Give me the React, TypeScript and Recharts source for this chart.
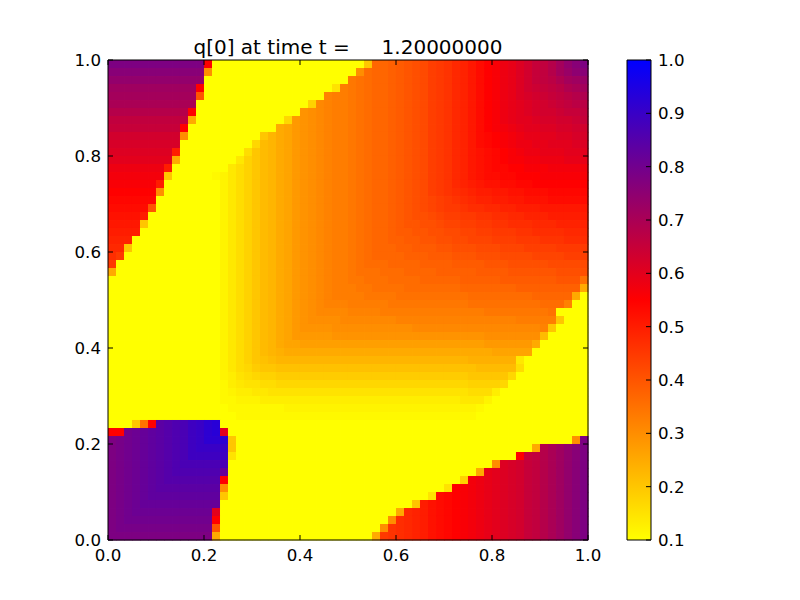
import * as React from "react";
import { Bar, BarChart, Scatter, ScatterChart, XAxis, YAxis } from "recharts";

const axisTicks = [0, 0.2, 0.4, 0.6, 0.8, 1];
const barTicks = [0.1, 0.2, 0.3, 0.4, 0.5, 0.6, 0.7, 0.8, 0.9, 1];
const titleText = "q[0] at time t =     1.20000000";

const xCenters = [
  0.0083, 0.025, 0.0417, 0.0583, 0.075, 0.0917, 0.1083, 0.125, 0.1417, 0.1583,
  0.175, 0.1917, 0.2083, 0.225, 0.2417, 0.2583, 0.275, 0.2917, 0.3083, 0.325,
  0.3417, 0.3583, 0.375, 0.3917, 0.4083, 0.425, 0.4417, 0.4583, 0.475, 0.4917,
  0.5083, 0.525, 0.5417, 0.5583, 0.575, 0.5917, 0.6083, 0.625, 0.6417, 0.6583,
  0.675, 0.6917, 0.7083, 0.725, 0.7417, 0.7583, 0.775, 0.7917, 0.8083, 0.825,
  0.8417, 0.8583, 0.875, 0.8917, 0.9083, 0.925, 0.9417, 0.9583, 0.975, 0.9917,
];
const yCenters = [...xCenters].reverse();

// q in hundredths, top row first
const qRows = [
  [78,78,78,78,78,78,78,78,78,78,78,78,55,10,10,10,10,10,10,10,10,10,10,10,10,10,10,10,10,10,10,10,20,37,37,38,39,40,41,42,44,45,46,48,49,51,53,55,56,58,59,61,63,65,66,68,71,74,76,78],
  [76,76,76,76,76,76,76,76,76,76,76,76,30,10,10,10,10,10,10,10,10,10,10,10,10,10,10,10,10,10,10,30,36,37,37,38,39,40,41,42,44,45,46,48,49,51,53,55,56,58,59,61,63,65,66,68,71,73,75,76],
  [74,74,74,74,74,74,74,74,74,74,74,74,10,10,10,10,10,10,10,10,10,10,10,10,10,10,10,10,10,10,34,35,36,37,37,38,39,40,41,42,44,45,46,48,49,51,53,55,56,58,59,61,63,65,66,67,69,71,72,73],
  [72,72,72,72,72,72,72,72,72,72,72,55,10,10,10,10,10,10,10,10,10,10,10,10,10,10,10,10,15,33,34,35,36,37,37,38,39,40,41,42,44,45,46,48,49,51,53,55,56,58,59,61,63,64,65,66,67,69,70,71],
  [71,71,71,71,71,71,71,71,71,71,71,40,10,10,10,10,10,10,10,10,10,10,10,10,10,10,10,32,33,33,34,35,36,37,37,38,39,40,41,42,44,45,46,48,49,51,53,55,56,58,59,61,62,63,64,65,66,67,68,69],
  [70,70,70,70,70,70,70,70,70,70,70,10,10,10,10,10,10,10,10,10,10,10,10,10,10,18,31,32,33,33,34,35,36,37,37,38,39,40,41,42,44,45,46,48,49,51,53,55,56,58,59,60,61,62,63,64,65,66,67,67],
  [68,68,68,68,68,68,68,68,68,68,55,10,10,10,10,10,10,10,10,10,10,10,10,10,29,30,31,32,33,33,34,35,36,37,37,38,39,40,41,42,44,45,46,48,49,51,53,55,56,58,59,60,61,62,63,63,64,65,65,66],
  [66,66,66,66,66,66,66,66,66,66,25,10,10,10,10,10,10,10,10,10,10,10,17,28,29,30,31,32,33,33,34,35,36,37,37,38,39,40,41,42,44,45,46,48,49,51,53,55,56,58,59,60,60,61,62,62,63,63,64,65],
  [65,65,65,65,65,65,65,65,65,55,10,10,10,10,10,10,10,10,10,10,10,25,26,28,29,30,31,32,33,33,34,35,36,37,37,38,39,40,41,42,44,45,46,48,49,51,53,55,56,57,58,59,60,60,61,61,62,62,63,63],
  [63,63,63,63,63,63,63,63,63,30,10,10,10,10,10,10,10,10,10,20,23,25,26,28,29,30,31,32,33,33,34,35,36,37,37,38,39,40,41,42,44,45,46,48,49,51,53,54,55,56,57,58,59,59,60,60,61,61,62,62],
  [62,62,62,62,62,62,62,62,62,10,10,10,10,10,10,10,10,10,17,22,23,25,26,28,29,30,31,32,33,33,34,35,36,37,37,38,39,40,41,42,44,45,46,48,49,51,53,54,55,56,57,58,58,59,59,60,60,60,61,61],
  [61,61,61,61,61,61,61,61,50,10,10,10,10,10,10,10,10,16,20,22,23,25,26,28,29,30,31,32,33,33,34,35,36,37,37,38,39,40,41,42,44,45,46,48,49,51,52,53,54,55,56,57,58,58,59,59,59,60,60,60],
  [60,60,60,60,60,60,60,60,25,10,10,10,10,10,10,10,14,18,20,22,23,25,26,28,29,30,31,32,33,33,34,35,36,37,37,38,39,40,41,42,44,45,46,48,49,51,52,53,54,55,56,56,57,57,58,58,58,59,59,59],
  [58,58,58,58,58,58,58,50,10,10,10,10,10,10,10,14,16,18,20,22,23,25,26,28,29,30,31,32,33,33,34,35,36,37,37,38,39,40,41,42,44,45,46,48,49,51,52,53,54,54,55,55,56,56,56,57,57,57,57,57],
  [57,57,57,57,57,57,57,20,10,10,10,10,10,11,12,14,16,18,20,22,23,25,26,28,29,30,31,32,33,33,34,35,36,37,37,38,39,40,41,42,44,45,46,48,49,51,52,53,53,54,54,55,55,55,56,56,56,56,56,56],
  [56,56,56,56,56,56,50,10,10,10,10,10,10,10,12,14,16,18,20,22,23,25,26,28,29,30,31,32,33,33,34,35,36,37,37,38,39,40,41,42,44,45,46,48,49,50,51,52,52,53,53,54,54,55,55,55,55,55,55,55],
  [55,55,55,55,55,55,30,10,10,10,10,10,10,10,12,14,16,18,20,22,23,25,26,28,29,30,31,32,33,33,34,35,36,37,37,38,39,40,41,42,44,45,46,47,48,49,50,50,51,51,52,52,53,53,53,54,54,54,54,54],
  [54,54,54,54,54,54,10,10,10,10,10,10,10,10,12,14,16,18,20,22,23,25,26,28,29,30,31,32,33,33,34,35,36,37,37,38,39,40,41,42,43,44,45,46,47,48,49,49,50,50,51,51,52,52,52,53,53,53,53,53],
  [53,53,53,53,53,40,10,10,10,10,10,10,10,10,12,14,16,18,20,22,23,25,26,28,29,30,31,32,33,33,34,35,36,37,37,38,39,40,41,42,43,44,45,45,46,47,47,48,48,49,49,50,50,50,51,51,51,51,51,51],
  [52,52,52,52,50,10,10,10,10,10,10,10,10,10,12,14,16,18,20,22,23,25,26,28,29,30,31,32,33,33,34,35,36,37,37,38,39,40,41,41,42,43,44,44,45,45,46,46,47,47,48,48,49,49,49,50,50,50,50,50],
  [51,51,51,51,20,10,10,10,10,10,10,10,10,10,12,14,16,18,20,22,23,25,26,28,29,30,31,32,33,33,34,35,36,37,37,38,39,40,40,41,41,42,43,43,44,44,45,45,46,46,47,47,47,48,48,48,49,49,49,49],
  [50,50,50,50,10,10,10,10,10,10,10,10,10,10,12,14,16,18,20,22,23,25,26,28,29,30,31,32,33,33,34,35,36,37,37,38,39,39,40,40,41,41,42,42,43,43,44,44,45,45,45,46,46,47,47,47,47,48,48,48],
  [49,49,49,10,10,10,10,10,10,10,10,10,10,10,12,14,16,18,20,22,23,25,26,28,29,30,31,32,33,33,34,35,36,37,37,38,38,39,39,40,40,41,41,42,42,43,43,43,44,44,44,45,45,45,46,46,46,47,47,47],
  [48,48,20,10,10,10,10,10,10,10,10,10,10,10,12,14,16,18,20,22,23,25,26,28,29,30,31,32,33,33,34,35,36,37,37,37,38,38,39,39,39,40,40,41,41,41,42,42,42,43,43,43,44,44,44,44,45,45,45,45],
  [47,45,10,10,10,10,10,10,10,10,10,10,10,10,12,14,16,18,20,22,23,25,26,28,29,30,31,32,33,33,34,35,36,37,37,37,37,38,38,38,39,39,39,40,40,40,41,41,41,42,42,42,42,43,43,43,43,44,44,44],
  [45,10,10,10,10,10,10,10,10,10,10,10,10,10,12,14,16,18,20,22,23,25,26,28,29,30,31,32,33,33,34,35,36,36,36,37,37,37,37,38,38,38,38,39,39,39,39,40,40,40,41,41,41,41,41,42,42,42,42,42],
  [25,10,10,10,10,10,10,10,10,10,10,10,10,10,12,14,16,18,20,22,23,25,26,28,29,30,31,32,33,33,34,35,35,35,36,36,36,37,37,37,37,38,38,38,38,38,39,39,39,39,40,40,40,40,40,40,41,41,41,41],
  [10,10,10,10,10,10,10,10,10,10,10,10,10,10,12,14,16,18,20,22,23,25,26,28,29,30,31,32,33,33,34,34,35,35,35,36,36,36,36,37,37,37,37,37,38,38,38,38,38,39,39,39,39,39,39,39,40,40,40,35],
  [10,10,10,10,10,10,10,10,10,10,10,10,10,10,12,14,16,18,20,22,23,25,26,28,29,30,31,32,33,33,33,34,34,35,35,35,35,36,36,36,36,36,36,36,37,37,37,37,37,37,37,38,38,38,38,38,38,38,38,25],
  [10,10,10,10,10,10,10,10,10,10,10,10,10,10,12,14,16,18,20,22,23,25,26,28,29,30,31,32,33,33,33,33,34,34,34,34,35,35,35,35,35,35,35,35,35,36,36,36,36,36,36,36,36,37,37,37,37,37,25,10],
  [10,10,10,10,10,10,10,10,10,10,10,10,10,10,12,14,16,18,20,22,23,25,26,28,29,30,31,32,32,32,33,33,33,33,33,34,34,34,34,34,34,34,34,34,34,35,35,35,35,35,35,35,35,35,36,36,36,32,10,10],
  [10,10,10,10,10,10,10,10,10,10,10,10,10,10,12,14,16,18,20,22,23,25,26,28,29,30,31,31,31,31,32,32,32,32,33,33,33,33,33,33,33,33,33,33,33,33,33,34,34,34,34,34,34,34,34,35,10,10,10,10],
  [10,10,10,10,10,10,10,10,10,10,10,10,10,10,12,14,16,18,20,22,23,25,26,28,29,30,30,30,30,31,31,31,31,31,31,31,32,32,32,32,32,32,32,32,32,32,32,32,32,32,32,33,33,33,33,33,20,10,10,10],
  [10,10,10,10,10,10,10,10,10,10,10,10,10,10,12,14,16,18,20,22,23,25,26,28,29,29,29,29,30,30,30,30,30,30,30,30,30,30,31,31,31,31,31,31,31,31,31,31,31,31,31,31,31,31,32,20,10,10,10,10],
  [10,10,10,10,10,10,10,10,10,10,10,10,10,10,12,14,16,18,20,22,23,25,26,28,28,28,28,28,29,29,29,29,29,29,29,29,29,29,29,29,29,29,29,29,29,29,29,30,30,30,30,30,30,30,22,10,10,10,10,10],
  [10,10,10,10,10,10,10,10,10,10,10,10,10,10,12,14,16,18,20,22,23,25,26,26,27,27,27,27,27,27,27,27,27,27,27,27,27,27,27,27,27,27,27,27,27,27,27,28,28,28,28,28,28,25,10,10,10,10,10,10],
  [10,10,10,10,10,10,10,10,10,10,10,10,10,10,12,14,16,18,20,22,23,24,25,25,25,25,25,25,25,25,25,25,25,25,25,25,25,25,25,25,25,25,25,25,25,25,25,25,26,26,26,26,26,10,10,10,10,10,10,10],
  [10,10,10,10,10,10,10,10,10,10,10,10,10,10,12,14,16,18,20,21,22,23,23,23,23,23,23,23,23,23,23,23,23,23,23,23,23,23,23,23,23,23,23,23,23,24,24,24,24,24,24,14,10,10,10,10,10,10,10,10],
  [10,10,10,10,10,10,10,10,10,10,10,10,10,10,12,14,16,17,19,20,20,21,21,21,21,21,21,21,21,21,21,21,21,21,21,21,21,21,21,21,21,21,21,21,21,21,22,22,22,22,22,16,10,10,10,10,10,10,10,10],
  [10,10,10,10,10,10,10,10,10,10,10,10,10,10,12,13,15,16,17,18,18,19,19,19,19,19,19,19,19,19,19,19,19,19,19,19,19,19,19,19,19,19,19,19,19,20,20,20,20,20,17,10,10,10,10,10,10,10,10,10],
  [10,10,10,10,10,10,10,10,10,10,10,10,10,10,11,13,14,15,15,16,16,17,17,17,17,17,17,17,17,17,17,17,17,17,17,17,17,17,17,17,17,17,17,17,17,18,18,18,18,17,10,10,10,10,10,10,10,10,10,10],
  [10,10,10,10,10,10,10,10,10,10,10,10,10,10,11,12,13,13,14,14,15,15,15,15,15,15,15,15,15,15,15,15,15,15,15,15,15,15,15,15,15,15,15,15,15,16,16,16,13,10,10,10,10,10,10,10,10,10,10,10],
  [10,10,10,10,10,10,10,10,10,10,10,10,10,10,11,11,12,12,12,13,13,13,13,13,13,13,13,13,13,13,13,13,13,13,13,13,13,13,13,13,13,13,13,13,14,14,14,12,10,10,10,10,10,10,10,10,10,10,10,10],
  [10,10,10,10,10,10,10,10,10,10,10,10,10,10,10,11,11,11,11,11,11,11,12,12,12,12,12,12,12,12,12,12,12,12,12,12,12,12,12,12,12,12,12,12,12,12,11,10,10,10,10,10,10,10,10,10,10,10,10,10],
  [10,10,10,10,10,10,10,10,10,10,10,10,10,10,10,10,11,11,11,11,11,11,11,11,11,11,11,11,11,11,11,11,11,11,11,11,11,11,11,11,11,11,11,11,11,11,10,10,10,10,10,10,10,10,10,10,10,10,10,10],
  [10,10,10,20,35,55,84,85,86,87,89,90,92,93,10,10,10,10,10,10,10,10,10,10,10,10,10,10,10,10,10,10,10,10,10,10,10,10,10,10,10,10,10,10,10,10,10,10,10,10,10,10,10,10,10,10,10,10,10,10],
  [55,55,80,81,82,83,84,85,86,87,89,90,92,93,60,10,10,10,10,10,10,10,10,10,10,10,10,10,10,10,10,10,10,10,10,10,10,10,10,10,10,10,10,10,10,10,10,10,10,10,10,10,10,10,10,10,10,10,10,10],
  [78,79,80,81,82,83,84,85,86,87,89,90,92,92,92,20,10,10,10,10,10,10,10,10,10,10,10,10,10,10,10,10,10,10,10,10,10,10,10,10,10,10,10,10,10,10,10,10,10,10,10,10,10,10,10,10,10,10,30,78],
  [78,79,80,81,82,83,84,85,86,87,89,90,90,90,90,20,10,10,10,10,10,10,10,10,10,10,10,10,10,10,10,10,10,10,10,10,10,10,10,10,10,10,10,10,10,10,10,10,10,10,10,10,10,25,68,70,72,74,76,78],
  [78,79,80,81,82,83,84,85,86,87,89,89,89,89,89,15,10,10,10,10,10,10,10,10,10,10,10,10,10,10,10,10,10,10,10,10,10,10,10,10,10,10,10,10,10,10,10,10,10,10,10,55,65,66,68,70,72,74,76,78],
  [78,79,80,81,82,83,84,85,86,87,87,87,87,87,87,10,10,10,10,10,10,10,10,10,10,10,10,10,10,10,10,10,10,10,10,10,10,10,10,10,10,10,10,10,10,10,10,10,30,61,62,63,65,66,68,70,72,74,76,78],
  [78,79,80,81,82,83,84,85,86,86,86,86,86,86,82,10,10,10,10,10,10,10,10,10,10,10,10,10,10,10,10,10,10,10,10,10,10,10,10,10,10,10,10,10,10,10,25,59,60,61,62,63,65,66,68,70,72,74,76,78],
  [78,79,80,81,82,83,84,85,85,85,85,85,85,85,55,10,10,10,10,10,10,10,10,10,10,10,10,10,10,10,10,10,10,10,10,10,10,10,10,10,10,10,10,10,18,57,58,59,60,61,62,63,65,66,68,70,72,74,76,78],
  [78,79,80,81,82,83,84,84,84,84,84,84,84,84,30,10,10,10,10,10,10,10,10,10,10,10,10,10,10,10,10,10,10,10,10,10,10,10,10,10,10,10,15,55,56,57,58,59,60,61,62,63,65,66,68,70,72,74,76,78],
  [78,79,80,81,82,83,83,83,83,83,83,83,83,83,20,10,10,10,10,10,10,10,10,10,10,10,10,10,10,10,10,10,10,10,10,10,10,10,10,10,15,53,54,55,56,57,58,59,60,61,62,63,65,66,68,70,72,74,76,78],
  [78,79,80,81,82,82,82,82,82,82,82,82,82,82,10,10,10,10,10,10,10,10,10,10,10,10,10,10,10,10,10,10,10,10,10,10,10,10,20,50,52,53,54,55,56,57,58,59,60,61,62,63,65,66,68,70,72,74,76,78],
  [78,79,80,81,81,81,81,81,81,81,81,81,81,60,10,10,10,10,10,10,10,10,10,10,10,10,10,10,10,10,10,10,10,10,10,10,25,48,49,50,52,53,54,55,56,57,58,59,60,61,62,63,65,66,68,70,72,74,76,78],
  [78,79,80,80,80,80,80,80,80,80,80,80,80,55,10,10,10,10,10,10,10,10,10,10,10,10,10,10,10,10,10,10,10,10,10,30,47,48,49,50,52,53,54,55,56,57,58,59,60,61,62,63,65,66,68,70,72,74,76,78],
  [78,79,79,79,79,79,79,79,79,79,79,79,79,40,10,10,10,10,10,10,10,10,10,10,10,10,10,10,10,10,10,10,10,10,30,46,47,48,49,50,52,53,54,55,56,57,58,59,60,61,62,63,65,66,68,70,72,74,76,78],
  [78,78,78,78,78,78,78,78,78,78,78,78,78,25,10,10,10,10,10,10,10,10,10,10,10,10,10,10,10,10,10,10,10,25,45,46,47,48,49,50,52,53,54,55,56,57,58,59,60,61,62,63,65,66,68,70,72,74,76,78],
];

const cells = qRows.flatMap((row, r) =>
  row.map((q, c) => ({ x: xCenters[c], y: yCenters[r], q: q / 100 })),
);
const barData = [{ name: "q", span: [0.1, 1] }];
const corners = [{ x: 0, y: 0 }, { x: 1, y: 1 }];
const barCorners = [{ x: 0, y: 0.1 }, { x: 1, y: 1 }];

const FONT = "'DejaVu Sans', sans-serif";
const LABEL = 16.67;
const TICK = 5;
const CELL = 8;

// yellow at 0.1, red halfway, blue at 1.0
function qColor(q: number) {
  if (q < 0.55) {
    const t = (q - 0.1) / 0.45;
    return `rgb(255,${Math.round(255 * (1 - t))},0)`;
  }
  const t = (q - 0.55) / 0.45;
  return `rgb(${Math.round(255 * (1 - t))},0,${Math.round(255 * t)})`;
}

function Cell(props: any) {
  const { cx, cy, payload } = props;
  return (
    <rect
      x={cx - CELL / 2}
      y={cy - CELL / 2}
      width={CELL + 0.5}
      height={CELL + 0.5}
      fill={qColor(payload.q)}
    />
  );
}

function NoMark() {
  return null;
}

function BottomTick({ x, y, payload }: any) {
  return (
    <g>
      <line x1={x} x2={x} y1={y} y2={y - TICK} stroke="#000" />
      <text x={x} y={y + 21} textAnchor="middle" fontSize={LABEL} fontFamily={FONT} fill="#000">
        {payload.value.toFixed(1)}
      </text>
    </g>
  );
}

function TopTick({ x, y }: any) {
  return <line x1={x} x2={x} y1={y} y2={y + TICK} stroke="#000" />;
}

function LeftTick({ x, y, payload }: any) {
  return (
    <g>
      <line x1={x} x2={x + TICK} y1={y} y2={y} stroke="#000" />
      <text x={x - 7} y={y + 6} textAnchor="end" fontSize={LABEL} fontFamily={FONT} fill="#000">
        {payload.value.toFixed(1)}
      </text>
    </g>
  );
}

function RightTick({ x, y }: any) {
  return <line x1={x} x2={x - TICK} y1={y} y2={y} stroke="#000" />;
}

function BarTick({ x, y, payload }: any) {
  return (
    <g>
      <line x1={x} x2={x - TICK} y1={y} y2={y} stroke="#000" />
      <text x={x + 7} y={y + 6} textAnchor="start" fontSize={LABEL} fontFamily={FONT} fill="#000">
        {payload.value.toFixed(1)}
      </text>
    </g>
  );
}

const frame = { stroke: "#000", strokeWidth: 1 };
const layer = { position: "absolute", left: 0, top: 0 } as const;
const bare = { tickSize: 0, tickMargin: 0, tickLine: false, interval: 0 } as const;

export default function App() {
  return (
    <div style={{ position: "absolute", left: 0, top: 0, width: 800, height: 600, background: "#fff" }}>
      <div style={layer}>
        <ScatterChart width={800} height={600} margin={{ top: 60, right: 212, bottom: 60, left: 108 }}>
          <XAxis hide type="number" dataKey="x" domain={[0, 1]} />
          <YAxis hide type="number" dataKey="y" domain={[0, 1]} />
          <Scatter data={cells} dataKey="y" shape={Cell} isAnimationActive={false} />
        </ScatterChart>
      </div>
      <div style={layer}>
        <ScatterChart width={800} height={600} margin={{ top: 59, right: 211, bottom: 30, left: 68 }}>
          <XAxis xAxisId="bottom" type="number" dataKey="x" domain={[0, 1]} ticks={axisTicks} height={30} axisLine={frame} tick={BottomTick} {...bare} />
          <XAxis xAxisId="top" orientation="top" type="number" dataKey="x" domain={[0, 1]} ticks={axisTicks} height={1} axisLine={frame} tick={TopTick} {...bare} />
          <YAxis yAxisId="left" type="number" dataKey="y" domain={[0, 1]} ticks={axisTicks} width={40} axisLine={frame} tick={LeftTick} {...bare} />
          <YAxis yAxisId="right" orientation="right" type="number" dataKey="y" domain={[0, 1]} ticks={axisTicks} width={1} axisLine={frame} tick={RightTick} {...bare} />
          <Scatter xAxisId="bottom" yAxisId="left" data={corners} dataKey="y" shape={NoMark} isAnimationActive={false} />
          <Scatter xAxisId="top" yAxisId="right" data={corners} dataKey="y" shape={NoMark} isAnimationActive={false} />
        </ScatterChart>
      </div>
      <div style={layer}>
        <BarChart width={800} height={600} data={barData} margin={{ top: 60, right: 149, bottom: 60, left: 627 }} barCategoryGap={0}>
          <defs>
            <linearGradient id="qBar" x1="0" y1="0" x2="0" y2="1">
              <stop offset="0%" stopColor="#0000ff" />
              <stop offset="50%" stopColor="#ff0000" />
              <stop offset="100%" stopColor="#ffff00" />
            </linearGradient>
          </defs>
          <XAxis dataKey="name" hide />
          <YAxis hide type="number" domain={[0.1, 1]} />
          <Bar dataKey="span" fill="url(#qBar)" stroke="#000" isAnimationActive={false} />
        </BarChart>
      </div>
      <div style={layer}>
        <ScatterChart width={800} height={600} margin={{ top: 60, right: 148, bottom: 60, left: 627 }}>
          <XAxis hide type="number" dataKey="x" domain={[0, 1]} />
          <YAxis orientation="right" type="number" dataKey="y" domain={[0.1, 1]} ticks={barTicks} width={1} axisLine={false} tick={BarTick} {...bare} />
          <Scatter data={barCorners} dataKey="y" shape={NoMark} isAnimationActive={false} />
        </ScatterChart>
      </div>
      <div style={{ position: "absolute", left: 108, top: 35, width: 480, textAlign: "center", fontFamily: FONT, fontSize: 20, lineHeight: "24px", whiteSpace: "pre", color: "#000" }}>
        {titleText}
      </div>
    </div>
  );
}
